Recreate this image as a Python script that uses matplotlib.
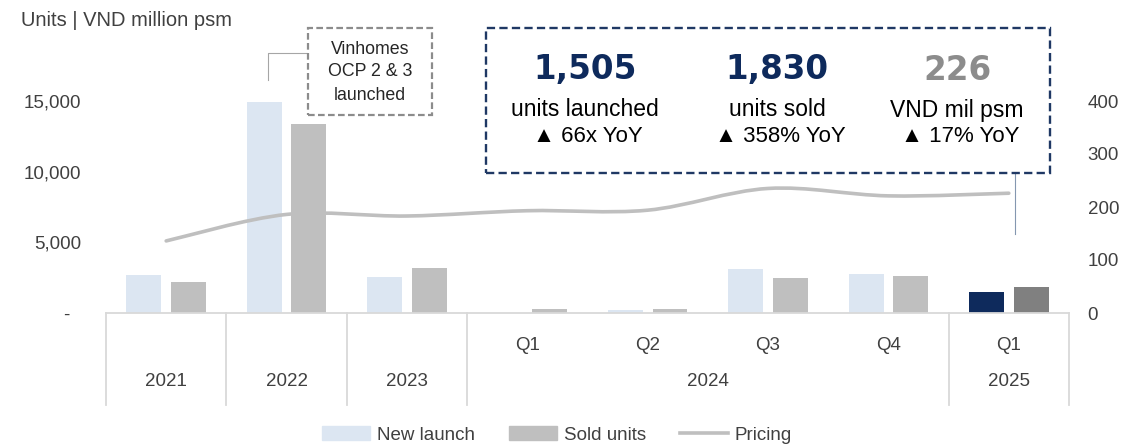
import matplotlib
matplotlib.use("Agg")
import matplotlib.pyplot as plt
from matplotlib.patches import Patch, Rectangle
from matplotlib.lines import Line2D
from matplotlib.path import Path
from matplotlib.patches import PathPatch
from matplotlib.ticker import FuncFormatter

# data
years = ["2021", "2022", "2023", "2024", "2024", "2024", "2024", "2025"]
quarters = ["", "", "", "Q1", "Q2", "Q3", "Q4", "Q1"]
new_launch = [2700, 14950, 2520, 23, 190, 3090, 2740, 1505]
sold_units = [2170, 13400, 3200, 250, 280, 2450, 2620, 1830]
pricing = [136, 186, 183, 193, 194, 235, 221, 226]

NL_C = "#DCE6F2"; SOLD_C = "#BFBFBF"; NAVY = "#0E2A5C"; DGRAY = "#808080"
LINE_C = "#BFBFBF"; TXT = "#404040"; AX_C = "#D9D9D9"; BOX_C = "#1F3864"

plt.rcParams["font.family"] = ["Liberation Sans", "DejaVu Sans"]

W, H = 1124, 446
fig = plt.figure(figsize=(W / 100, H / 100), dpi=100)
fx = lambda px: px / W
fy = lambda py: 1 - py / H

# plot area: x 106..1069, y zero at 313, 15000 at 101
left, right, zero_y, top_y = 106, 1069, 313, 30.3
ax = fig.add_axes([fx(left), fy(zero_y), fx(right - left), (zero_y - top_y) / H])
ax2 = ax.twinx()
ax.set_ylim(0, 15000 * (zero_y - top_y) / (313 - 101))
ax2.set_ylim(0, 400 * (zero_y - top_y) / (313 - 101))
ax.set_xlim(-0.5, len(years) - 0.5)

n = len(years)
x = list(range(n))
bw, off = 0.29, 0.185
nl_colors = [NL_C] * (n - 1) + [NAVY]
sold_colors = [SOLD_C] * (n - 1) + [DGRAY]
ax.bar([i - off for i in x], new_launch, width=bw, color=nl_colors, zorder=2)
ax.bar([i + off for i in x], sold_units, width=bw, color=sold_colors, zorder=2)

# smoothed pricing line (Catmull-Rom as cubic Bezier through the data points)
pts = list(zip(x, pricing))
verts = [pts[0]]
codes = [Path.MOVETO]
for i in range(n - 1):
    p0 = pts[i - 1] if i > 0 else pts[i]
    p1, p2 = pts[i], pts[i + 1]
    p3 = pts[i + 2] if i + 2 < n else pts[i + 1]
    c1 = (p1[0] + (p2[0] - p0[0]) / 6, p1[1] + (p2[1] - p0[1]) / 6)
    c2 = (p2[0] - (p3[0] - p1[0]) / 6, p2[1] - (p3[1] - p1[1]) / 6)
    verts += [c1, c2, p2]
    codes += [Path.CURVE4] * 3
ax2.add_patch(PathPatch(Path(verts, codes), fc="none", ec=LINE_C, lw=2.6,
                        capstyle="round", zorder=3))

for a in (ax, ax2):
    for s in a.spines.values():
        s.set_visible(False)
ax.set_xticks([])
ax.set_yticks([0, 5000, 10000, 15000])
ax.yaxis.set_major_formatter(FuncFormatter(lambda v, p: "-  " if v == 0 else f"{v:,.0f}"))
ax.tick_params(axis="y", length=0, pad=18, labelsize=13.5, labelcolor=TXT)
ax2.set_yticks([0, 100, 200, 300, 400])
ax2.tick_params(axis="y", length=0, pad=13.5, labelsize=13.5, labelcolor=TXT)

# category axis
ah = zero_y - top_y
ay = lambda py: -(py - zero_y) / ah
tr = ax.get_xaxis_transform()
ax.plot([-0.5, n - 0.5], [0, 0], color=AX_C, lw=1.3, transform=tr, clip_on=False, zorder=4)
for b in [-0.5, 0.5, 1.5, 2.5, 6.5, 7.5]:
    ax.plot([b, b], [0, ay(405)], color=AX_C, lw=1.3, transform=tr, clip_on=False)
for i, q in enumerate(quarters):
    if q:
        ax.text(i, ay(346), q, ha="center", va="center", fontsize=13.5, color=TXT, transform=tr)
groups = {}
for i, yv in enumerate(years):
    groups.setdefault(yv, []).append(i)
for yv, idx in groups.items():
    ax.text(sum(idx) / len(idx), ay(382), yv, ha="center", va="center",
            fontsize=13.5, color=TXT, transform=tr)

# title
fig.text(fx(21), fy(20), "Units | VND million psm", ha="left", va="center",
         fontsize=14.5, color=TXT)

# Vinhomes annotation
fig.patches.append(Rectangle((fx(308), fy(115)), fx(124), (115 - 28) / H, transform=fig.transFigure,
                             fc="white", ec="#8C8C8C", lw=1.6, ls=(0, (3, 1.5)), zorder=5))
for j, t in enumerate(["Vinhomes", "OCP 2 & 3", "launched"]):
    fig.text(fx(370), fy(49 + 23 * j), t, ha="center", va="center", fontsize=12.8,
             color="#262626", zorder=6)
fig.lines.append(Line2D([fx(308), fx(268), fx(268)], [fy(53), fy(53), fy(80)],
                        transform=fig.transFigure, color="#A6A6A6", lw=0.8))

# KPI box
fig.patches.append(Rectangle((fx(486), fy(173)), fx(1050 - 486), (173 - 28) / H,
                             transform=fig.transFigure, fc="white", ec=BOX_C, lw=1.7,
                             ls=(0, (3.5, 1.8)), zorder=5))
fig.lines.append(Line2D([fx(1015), fx(1015)], [fy(173), fy(234)], transform=fig.transFigure,
                        color="#8497B0", lw=0.8))
kpis = [("1,505", "units launched", "▲ 66x YoY", 585, NAVY),
        ("1,830", "units sold", "▲ 358% YoY", 777, NAVY),
        ("226", "VND mil psm", "▲ 17% YoY", 957, "#8C8C8C")]
for big, lab, yoy, cx, col in kpis:
    fig.text(fx(cx), fy(70), big, ha="center", va="center", fontsize=23.5, fontweight="bold",
             color=col, family="DejaVu Sans", zorder=6)
    fig.text(fx(cx), fy(110), lab, ha="center", va="center", fontsize=16.5, color="black", zorder=6)
    fig.text(fx(cx + 3), fy(137), yoy, ha="center", va="center", fontsize=16, color="black", zorder=6)

# legend
handles = [Patch(color=NL_C), Patch(color=SOLD_C), Line2D([], [], color=LINE_C, lw=2.6)]
fig.legend(handles, ["New launch", "Sold units", "Pricing"], loc="center",
           bbox_to_anchor=(fx(557), fy(435)), ncol=3, frameon=False, fontsize=13.5,
           handlelength=2.56, handletextpad=0.37, columnspacing=1.8, labelcolor=TXT,
           borderaxespad=0, borderpad=0)

fig.savefig("out.png", dpi=100, facecolor="white")
